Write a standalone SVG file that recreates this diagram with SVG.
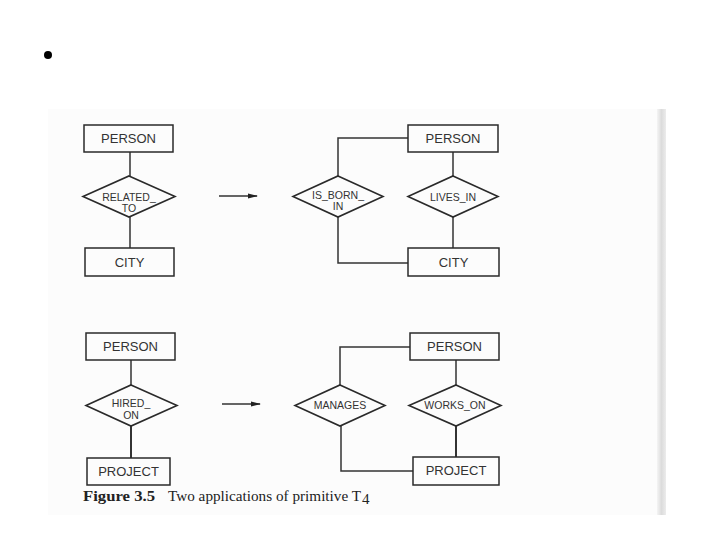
<svg xmlns="http://www.w3.org/2000/svg" width="720" height="540" viewBox="0 0 720 540">
<defs>
<style>
.ent{fill:none;stroke:#2a2a2a;stroke-width:1.5}
.rel{fill:none;stroke:#2a2a2a;stroke-width:1.6}
.ln{fill:none;stroke:#333;stroke-width:1.5}
.t{font-family:"Liberation Sans",Arial,sans-serif;font-size:13px;fill:#333;text-anchor:middle}
.rt{font-family:"Liberation Sans",Arial,sans-serif;font-size:10.5px;fill:#333;text-anchor:middle}
.cap{font-family:"Liberation Serif","Times New Roman",serif;font-size:15px;fill:#222}
</style>
<marker id="ah" markerWidth="10" markerHeight="6" refX="9" refY="3" orient="auto" markerUnits="userSpaceOnUse">
<path d="M0,0.5 L10,3 L0,5.5 z" fill="#222"/>
</marker>
<linearGradient id="strip" x1="0" y1="0" x2="1" y2="0">
<stop offset="0" stop-color="#f4f4f4"/>
<stop offset="0.5" stop-color="#dcdcdc"/>
<stop offset="1" stop-color="#ececec"/>
</linearGradient>
</defs>
<rect width="720" height="540" fill="#fff"/>
<rect x="48" y="109" width="610" height="406" fill="#fcfcfc"/>
<rect x="657" y="109" width="9" height="406" fill="url(#strip)"/>
<circle cx="48" cy="55" r="4" fill="#000"/>

<g id="connectors">
<line class="ln" x1="130" y1="152" x2="130" y2="176"/>
<line class="ln" x1="130" y1="217" x2="130" y2="248"/>
<line class="ln" x1="219" y1="196" x2="257" y2="196" marker-end="url(#ah)"/>
<polyline class="ln" points="408,138 338,138 338,176"/>
<polyline class="ln" points="338,217 338,263 408,263"/>
<line class="ln" x1="453" y1="152" x2="453" y2="176"/>
<line class="ln" x1="453" y1="217" x2="453" y2="248"/>
<line class="ln" x1="131" y1="360" x2="131" y2="385"/>
<line class="ln" x1="131" y1="426" x2="131" y2="458" style="stroke-width:2"/>
<line class="ln" x1="222" y1="404" x2="260" y2="404" marker-end="url(#ah)"/>
<polyline class="ln" points="410,347 340,347 340,385"/>
<polyline class="ln" points="341,426 341,471 413,471"/>
<line class="ln" x1="456" y1="360" x2="456" y2="385"/>
<line class="ln" x1="456" y1="426" x2="456" y2="457" style="stroke-width:2"/>
</g>

<g id="person1"><rect class="ent" x="84" y="125" width="89" height="27"/><text class="t" x="128.5" y="143">PERSON</text></g>
<g id="related_to"><polygon class="rel" points="129,176 175,196.5 129,217 83,196.5"/><text class="rt" x="129" y="201">RELATED_</text><text class="rt" x="129" y="212">TO</text></g>
<g id="city1"><rect class="ent" x="85" y="248" width="89" height="28"/><text class="t" x="129.5" y="267">CITY</text></g>

<g id="person2"><rect class="ent" x="408" y="125" width="90" height="27"/><text class="t" x="453" y="143">PERSON</text></g>
<g id="is_born_in"><polygon class="rel" points="338,176 383,196.5 338,217 293,196.5"/><text class="rt" x="338" y="199">IS_BORN_</text><text class="rt" x="338" y="210">IN</text></g>
<g id="lives_in"><polygon class="rel" points="453,176 498,196.5 453,217 408,196.5"/><text class="rt" x="453" y="200.5">LIVES_IN</text></g>
<g id="city2"><rect class="ent" x="408" y="248" width="91" height="28"/><text class="t" x="453.5" y="267">CITY</text></g>

<g id="person3"><rect class="ent" x="86" y="333" width="89" height="27"/><text class="t" x="130.5" y="351">PERSON</text></g>
<g id="hired_on"><polygon class="rel" points="131,385 177,405.5 131,426 86,405.5"/><text class="rt" x="131" y="407">HIRED_</text><text class="rt" x="131" y="419">ON</text></g>
<g id="project1"><rect class="ent" x="87" y="458" width="83" height="27"/><text class="t" x="128.5" y="476">PROJECT</text></g>

<g id="person4"><rect class="ent" x="410" y="333" width="89" height="27"/><text class="t" x="454.5" y="351">PERSON</text></g>
<g id="manages"><polygon class="rel" points="340,385 385,405.5 340,426 295,405.5"/><text class="rt" x="340" y="409">MANAGES</text></g>
<g id="works_on"><polygon class="rel" points="456,385 501,405.5 456,426 409,405.5"/><text class="rt" x="455" y="409">WORKS_ON</text></g>
<g id="project2"><rect class="ent" x="413" y="457" width="86" height="28"/><text class="t" x="456" y="475">PROJECT</text></g>

<text class="cap" x="83" y="501" font-weight="bold" textLength="72" lengthAdjust="spacingAndGlyphs">Figure 3.5</text>
<text class="cap" x="168" y="501" textLength="193" lengthAdjust="spacingAndGlyphs">Two applications of primitive T</text>
<text class="cap" x="362" y="504" font-size="7">4</text>
</svg>
